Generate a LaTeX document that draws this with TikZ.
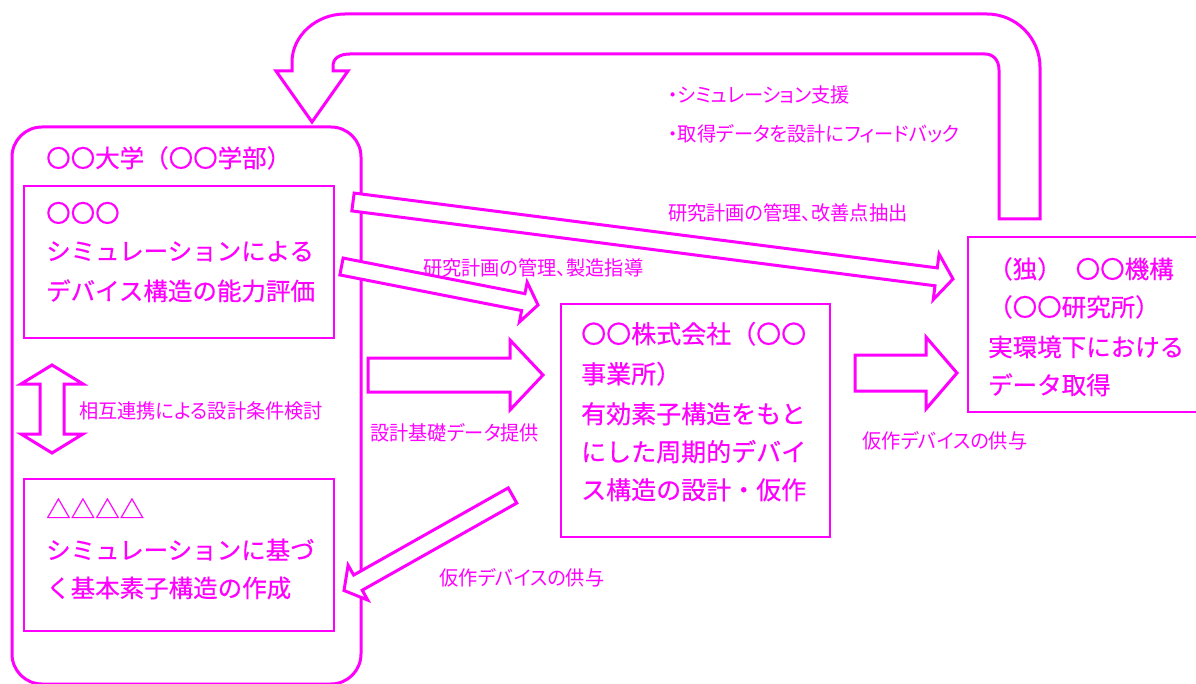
\documentclass[tikz,border=0pt]{standalone}
\usepackage{fontspec}
\newfontfamily\jp{Noto Sans CJK JP}[FakeBold=0.4]
\newfontfamily\jpp{Noto Sans CJK JP}[RawFeature=+palt,FakeStretch=0.96]
\usetikzlibrary{calc}
\definecolor{mg}{RGB}{255,0,255}
\newcommand\blockarr[6]{% name, tail, tip, half shaft, half head, head length
  \coordinate (#1B) at ($(#3)!#6pt!(#2)$);
  \draw[arr] ($(#2)!#4pt!90:(#3)$) -- ($(#1B)!#4pt!90:(#3)$) -- ($(#1B)!#5pt!90:(#3)$)
    -- (#3) -- ($(#1B)!#5pt!-90:(#3)$) -- ($(#1B)!#4pt!-90:(#3)$) -- ($(#2)!#4pt!-90:(#3)$) -- cycle;
}
\begin{document}
\begin{tikzpicture}[x=1pt,y=-1pt,
  big/.style={anchor=west,inner sep=0pt,text=mg,font=\jp\fontsize{24.5}{24.5}\selectfont,text height=21.5pt,text depth=3pt},
  mid/.style={big,font=\jp\fontsize{25}{25}\selectfont},
  lbl/.style={anchor=west,inner sep=0pt,text=mg,font=\jpp\fontsize{20}{20}\selectfont,text height=17.6pt,text depth=2.4pt},
  thick box/.style={draw=mg,line width=3pt},
  thin box/.style={draw=mg,line width=1.4pt},
  arr/.style={draw=mg,line width=3pt,fill=white,line join=miter}]
\useasboundingbox (0,0) rectangle (1196,684);
\clip (0,0) rectangle (1196,684);
\fill[white] (0,0) rectangle (1196,684);

% feedback loop arrow
\draw[arr] (999,219) -- (1040,219) -- (1040,67) .. controls (1040,38) and (1016,14) .. (987,14)
  -- (345,14) .. controls (316,14) and (292,36) .. (292,62) -- (292,71) -- (276,71) -- (312,122)
  -- (348,71) -- (333,71) -- (333,66) .. controls (333,58) and (340,54) .. (350,54)
  -- (985,54) .. controls (993,54) and (999,60) .. (999,70) -- cycle;

% university box
\draw[thick box,rounded corners=30] (12,127) rectangle (361,684);
\node[big] (uni) at (46,158) {〇〇大学（〇〇学部）};
\draw[thin box] (24,186) rectangle (334,338);
\node[big] (s1a) at (46,213) {〇〇〇};
\node[big] (s1b) at (46,251) {シミュレーションによる};
\node[big] (s1c) at (46,291) {デバイス構造の能力評価};
\draw[thin box] (24,479) rectangle (334,631);
\node[big] (s2a) at (46,509) {△△△△};
\node[big] (s2b) at (46,550) {シミュレーションに基づ};
\node[big] (s2c) at (46,588) {く基本素子構造の作成};

% mutual double arrow
\draw[arr] (52,365) -- (83,384) -- (64,384) -- (64,434) -- (83,434) -- (52,453) -- (21,434)
  -- (40,434) -- (40,384) -- (21,384) -- cycle;
\node[lbl] (mutual) at (79,411) {相互連携による設計条件検討};

% company box
\draw[thin box] (561,304) rectangle (830,537);
\node[mid] (c1) at (581,334) {〇〇株式会社（〇〇};
\node[mid] (c2) at (581,374) {事業所）};
\node[mid] (c3) at (581,414) {有効素子構造をもと};
\node[mid] (c4) at (581,452) {にした周期的デバイ};
\node[mid] (c5) at (581,490) {ス構造の設計・仮作};

% institute box
\draw[thin box] (968,237) rectangle (1200,412);
\node[big] (r1) at (988,269) {（独）\hspace{14pt}〇〇機構};
\node[big] (r2) at (988,307) {（〇〇研究所）};
\node[big] (r3) at (988,347) {実環境下における};
\node[big] (r4) at (988,385) {データ取得};

% straight block arrows
\coordinate (la1) at (353,202); \coordinate (la2) at (953,279);
\blockarr{la}{la1}{la2}{9}{23}{17}
\coordinate (sa1) at (341.5,266.5); \coordinate (sa2) at (538,305);
\blockarr{sa}{sa1}{sa2}{8.6}{20.3}{15}
\coordinate (da1) at (512.5,495.5); \coordinate (da2) at (344,590.5);
\blockarr{da}{da1}{da2}{8.7}{20}{16}
\draw[arr] (368,358) -- (510,358) -- (510,340) -- (543,375) -- (510,410) -- (510,392) -- (368,392) -- cycle;
\draw[arr] (855,355) -- (926,355) -- (926,337) -- (957,373) -- (926,409) -- (926,391) -- (855,391) -- cycle;

% labels
\node[lbl] (fb1) at (668,95) {・シミュレーション支援};
\node[lbl] (fb2) at (668,134) {・取得データを設計にフィードバック};
\node[lbl] (plan1) at (668,213) {研究計画の管理、改善点抽出};
\node[lbl] (plan2) at (423,268) {研究計画の管理、製造指導};
\node[lbl] (basic) at (370,433) {設計基礎データ提供};
\node[lbl] (dev1) at (862,441) {仮作デバイスの供与};
\node[lbl] (dev2) at (439,578) {仮作デバイスの供与};
\end{tikzpicture}
\end{document}
